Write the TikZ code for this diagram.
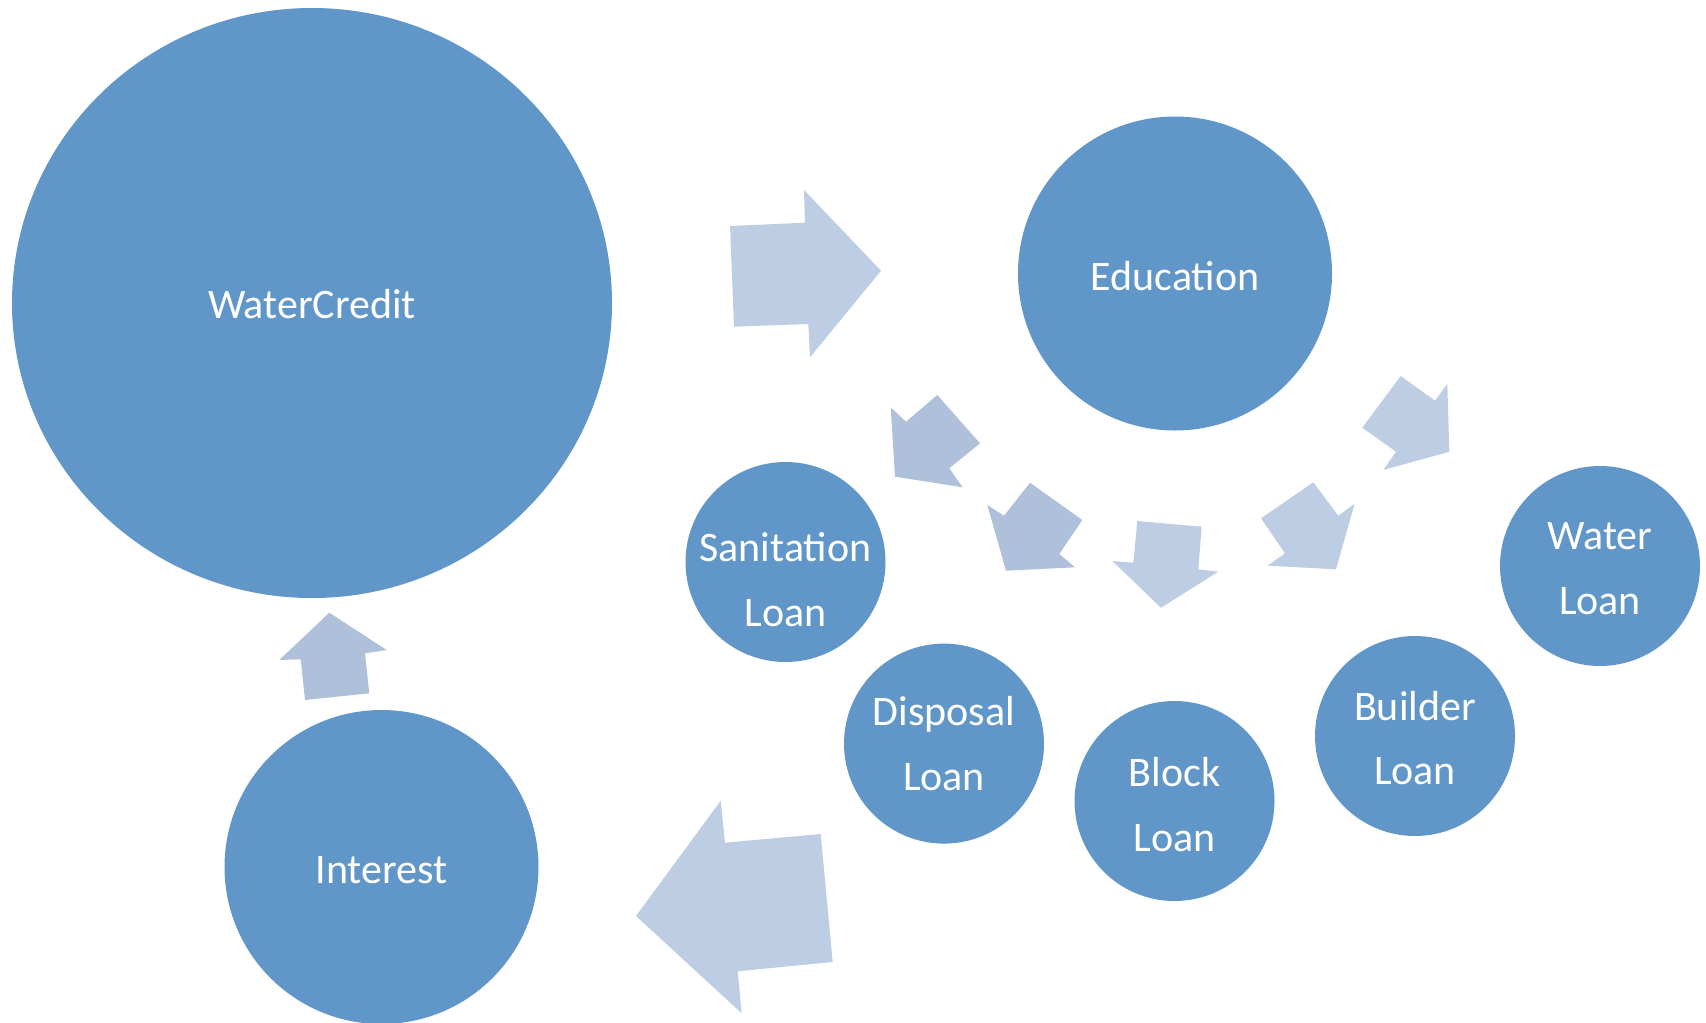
\documentclass[tikz,border=0pt]{standalone}
\usepackage{fontspec}
\setmainfont{Carlito}
\usetikzlibrary{shapes.geometric}
\definecolor{bubble}{RGB}{97,150,200}
\definecolor{arrowlight}{RGB}{189,205,227}
\definecolor{arrowdark}{RGB}{175,192,219}
\begin{document}
\begin{tikzpicture}[x=1pt,y=-1pt,
  bub/.style={circle,fill=bubble,draw=none,inner sep=0pt,minimum size=200pt},
  lbl/.style={text=white,align=center,inner sep=0pt,font=\fontsize{42}{64.5}\selectfont},
  blockarrow/.style={fill=arrowlight,draw=none},
  blockarrowdark/.style={fill=arrowdark,draw=none}]
\useasboundingbox (0,0) rectangle (1706,1023);
% bubbles
\node[ellipse,fill=bubble,inner sep=0pt,minimum width=600pt,minimum height=590pt] (wc) at (312,303) {};
\node[bub,minimum size=314pt] (edu) at (1175,273.5) {};
\node[bub,minimum size=314pt] (int) at (381.5,867) {};
\node[bub] (san) at (785.5,562) {};
\node[bub] (dis) at (944,743.6) {};
\node[bub] (blk) at (1174.5,801) {};
\node[bub] (bld) at (1415,736) {};
\node[bub] (wat) at (1600,566) {};
% labels
\node[lbl] (twc) at (312,304.5) {WaterCredit};
\node[lbl] (tedu) at (1175,276) {Education};
\node[lbl] (tint) at (381.5,870) {Interest};
\node[lbl] (tsan) at (785.5,579.5) {Sanitation\\Loan};
\node[lbl] (tdis) at (944,743.6) {Disposal\\Loan};
\node[lbl] (tblk) at (1174.5,804.6) {Block\\Loan};
\node[lbl] (tbld) at (1415,738) {Builder\\Loan};
\node[lbl] (twat) at (1600,568.5) {Water\\Loan};
% block arrows
\fill[blockarrow] (730,226) -- (805,222.7) -- (804,190) -- (881,270.7) -- (810,357.3) -- (808.3,324) -- (734,326.7) -- cycle;
\fill[blockarrow] (720.7,800.7) -- (725,842.7) -- (820.7,834) -- (832.7,962) -- (737.7,971.3) -- (741.7,1013.3) -- (636,916) -- cycle;
\fill[blockarrowdark] (329.3,612.7) -- (386.7,650) -- (365,653.3) -- (369.3,693.3) -- (305,700) -- (300.7,659.3) -- (279.3,660) -- cycle;
\fill[blockarrowdark] (890.7,407.3) -- (906,421.7) -- (937.3,395) -- (980,443.3) -- (949.3,468.3) -- (962.7,487.3) -- (895,476.7) -- cycle;
\fill[blockarrowdark] (987.3,505) -- (1004,515.7) -- (1030,482.7) -- (1082.3,520) -- (1059.3,554) -- (1075,567.3) -- (1006,570.7) -- cycle;
\fill[blockarrow] (1137.3,521) -- (1201.7,526.7) -- (1198.3,569.3) -- (1218.3,571.7) -- (1161,607.7) -- (1112.3,561) -- (1133.3,562.7) -- cycle;
\fill[blockarrow] (1261,518.3) -- (1313.3,482.3) -- (1338.3,515.7) -- (1354.6,503.7) -- (1336,569.3) -- (1267.7,565.7) -- (1285,553.3) -- cycle;
\fill[blockarrow] (1400.7,376) -- (1435,400.7) -- (1447.3,384) -- (1449.3,451.7) -- (1383.3,470) -- (1396,451.7) -- (1362.3,427.7) -- cycle;
\end{tikzpicture}
\end{document}
